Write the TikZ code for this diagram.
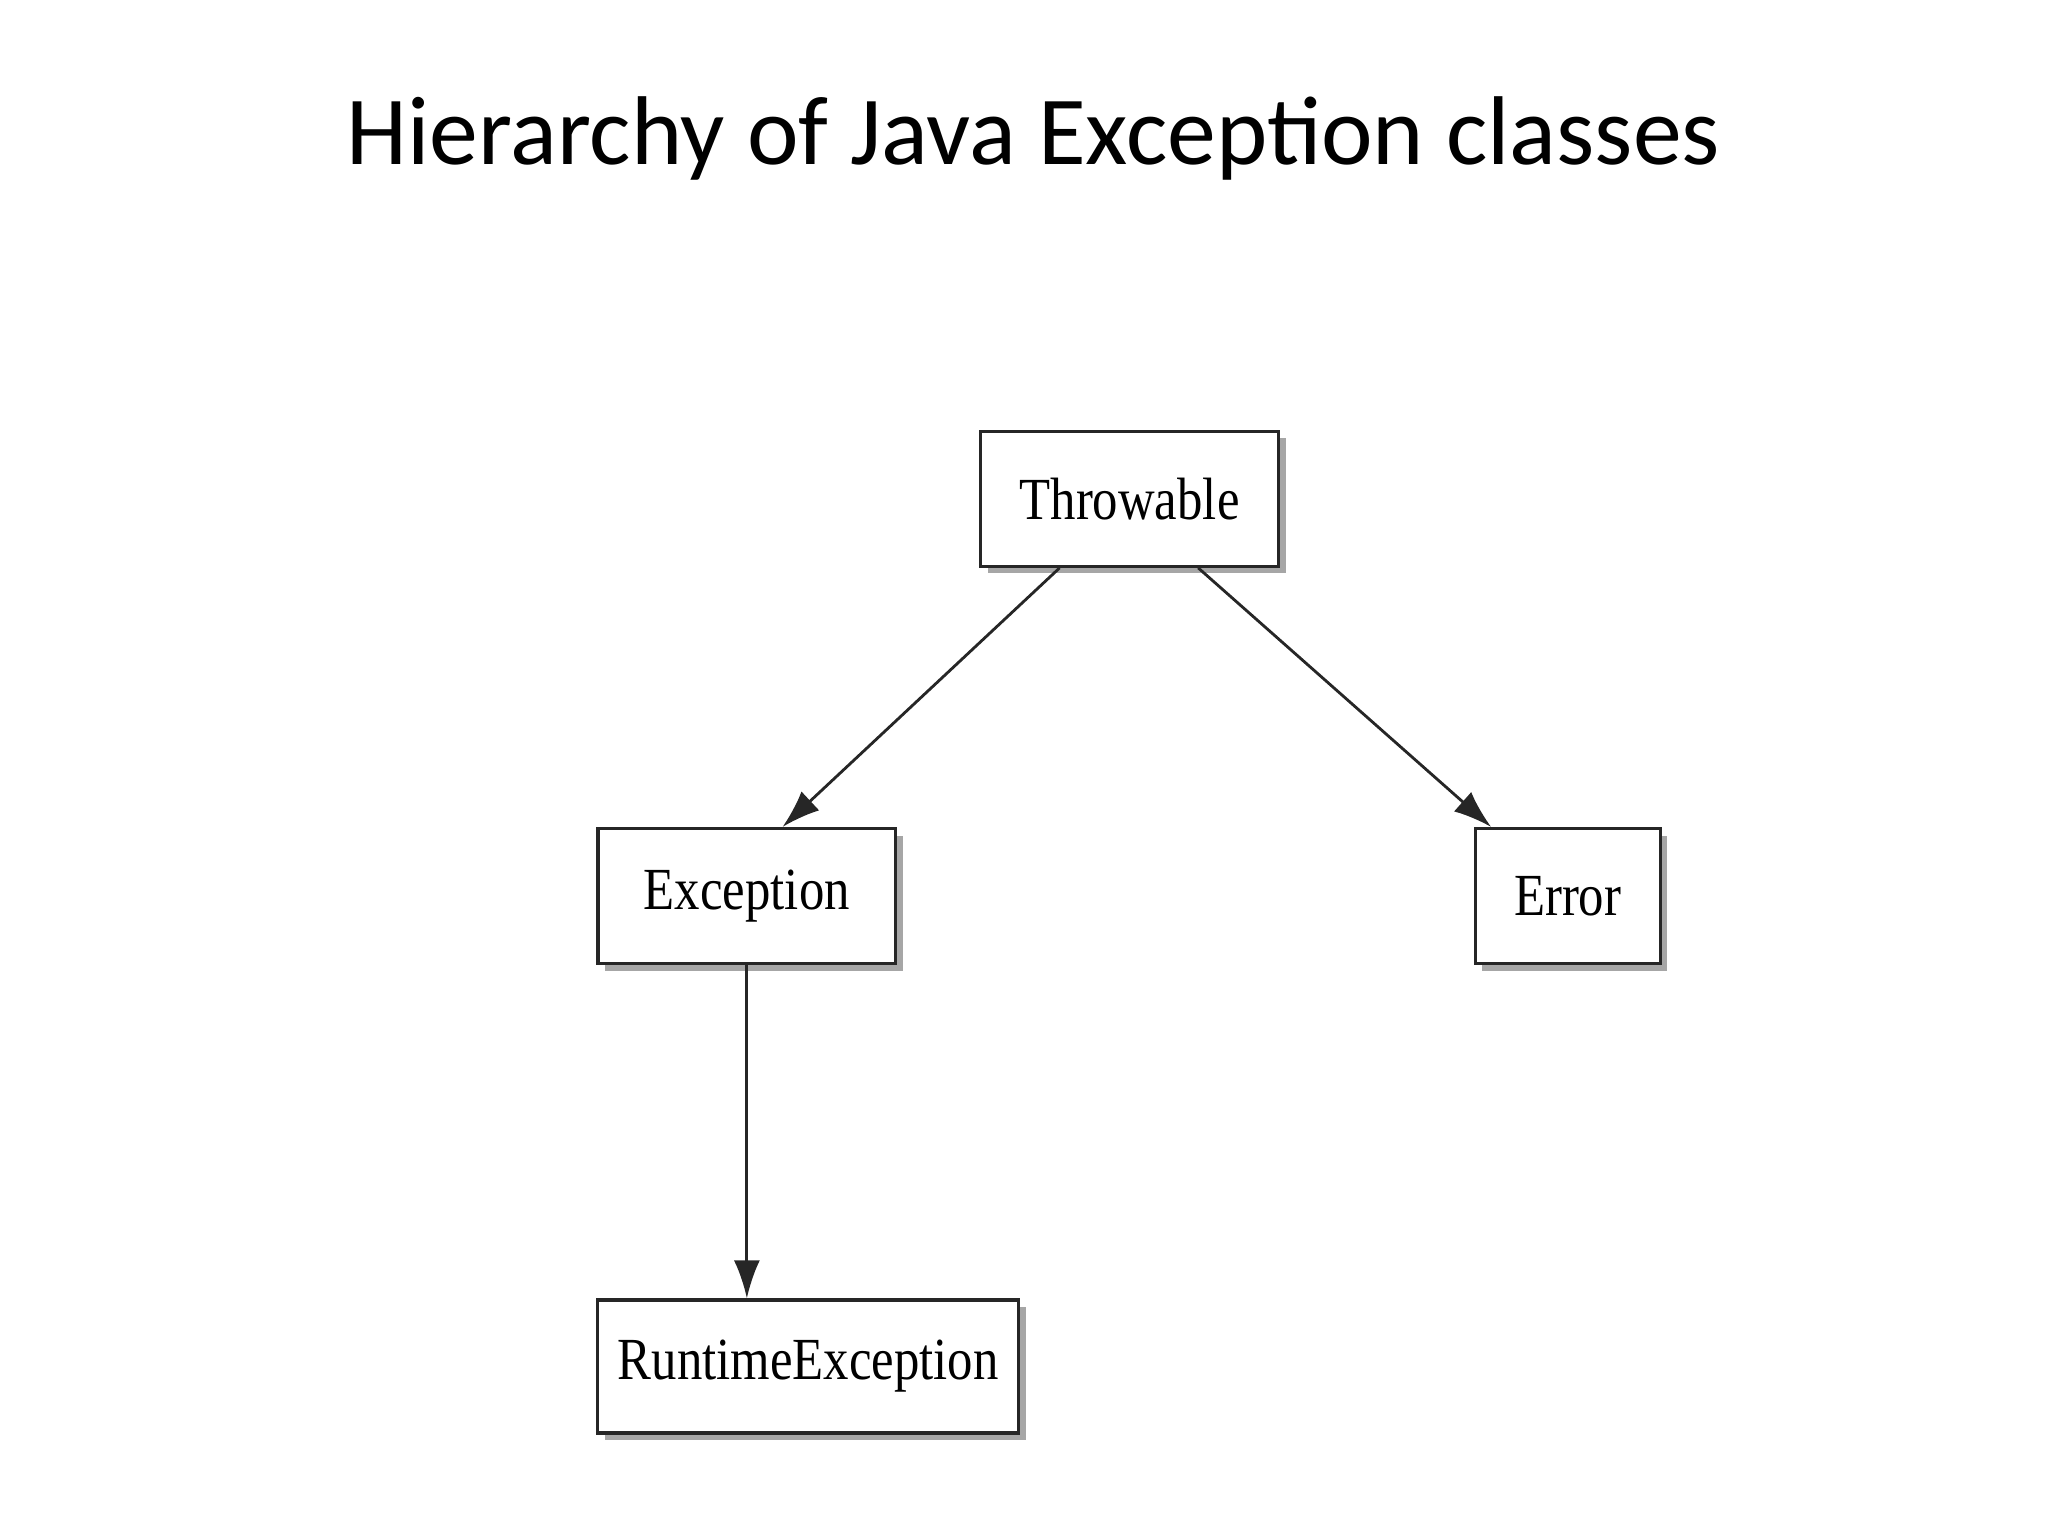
\documentclass[tikz,border=0pt]{standalone}
\usepackage{fontspec}
\setmainfont{Liberation Serif}
\newfontfamily\titlefont{Carlito}
\usetikzlibrary{shadows,calc,arrows.meta}
\begin{document}
\begin{tikzpicture}[x=0.0132cm,y=-0.0132cm,
  cls/.style={draw=black!85,line width=0.9pt,fill=white,minimum height=1.35cm,inner sep=0pt,
    font=\fontsize{17}{20}\selectfont,
    drop shadow={shadow xshift=0.07cm,shadow yshift=-0.07cm,fill=black!35,opacity=1}},
  arr/.style={-{Latex[length=0.38cm,width=0.26cm]},line width=0.8pt,black!85}]
\useasboundingbox (0,0) rectangle (1552,1164);
\node[font=\titlefont\fontsize{27.8}{32}\selectfont] (title) at (783,105) {Hierarchy of Java Exception classes};
\node[cls,minimum width=2.98cm] (thr) at (856,378) {\scalebox{0.85}[1]{Throwable}};
\node[cls,minimum width=2.98cm] (exc) at (566,679) {\scalebox{0.85}[1]{Exception}};
\node[cls,minimum width=1.85cm] (err) at (1188,679) {\scalebox{0.85}[1]{Error}};
\node[cls,minimum width=4.21cm,minimum height=1.33cm] (rte) at (612.5,1035.5) {\scalebox{0.85}[1]{RuntimeException}};
\draw[arr] ($(thr.south)+(-53,0)$) -- ($(exc.north)+(27,0)$);
\draw[arr] ($(thr.south)+(52,0)$) -- ($(err.north)+(-58,0)$);
\draw[arr] (exc.south) -- (exc.south |- rte.north);
\end{tikzpicture}
\end{document}
